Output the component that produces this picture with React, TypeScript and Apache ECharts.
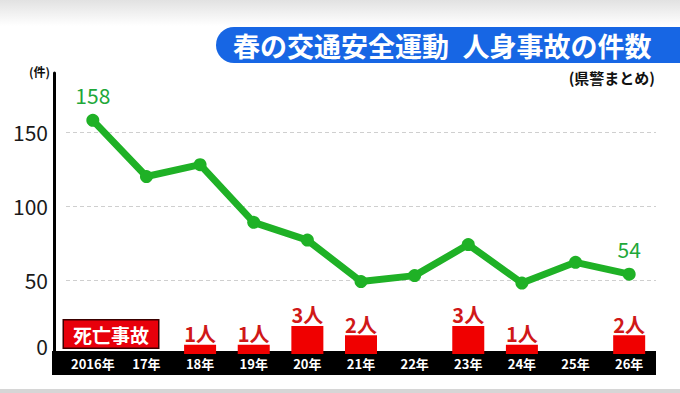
import React, { useEffect, useRef } from "react";
import * as echarts from "echarts";

const categories = ["2016年", "17年", "18年", "19年", "20年", "21年", "22年", "23年", "24年", "25年", "26年"];
const accidents = [158, 120, 128, 89, 77, 49, 53, 74, 48, 62, 54];
const deaths = [0, 0, 1, 1, 3, 2, 0, 3, 1, 0, 2];
const yTicks = [0, 50, 100, 150];
const titleText = "春の交通安全運動\u2002人身事故の件数";
const sourceText = "(県警まとめ)";
const unitText = "(件)";
const deathLegend = "死亡事故";
const lineName = "人身事故";

const FONT = "'Noto Sans CJK JP', 'Noto Sans', sans-serif";

export default function App() {
  const ref = useRef<HTMLDivElement>(null);
  useEffect(() => {
    if (!ref.current) return;
    const chart = echarts.init(ref.current, undefined, { renderer: "svg" });
    const lastIdx = accidents.length - 1;
    chart.setOption({
      animation: false,
      backgroundColor: "#ffffff",
      textStyle: { fontFamily: FONT },
      grid: { left: 66, right: 24, top: 73, bottom: 39, containLabel: false },
      legend: {
        data: [{ name: deathLegend, icon: "none" }],
        left: 59,
        top: 319,
        padding: 0,
        itemWidth: 0,
        itemHeight: 0,
        selectedMode: false,
        textStyle: {
          color: "#ffffff",
          fontSize: 19,
          fontWeight: "bold",
          fontFamily: FONT,
          backgroundColor: "#e8000b",
          borderColor: "#3a0000",
          borderWidth: 1.5,
          padding: [4, 9, 4, 9],
        },
      },
      xAxis: {
        type: "category",
        data: categories,
        axisLine: { show: false },
        axisTick: { show: false },
        axisLabel: {
          color: "#ffffff",
          fontSize: 13,
          fontWeight: "bold",
          fontFamily: FONT,
          margin: 3,
          interval: 0,
        },
        z: 5,
      },
      yAxis: [
        {
          type: "value",
          min: 0,
          max: 190,
          interval: 50,
          offset: 12,
          name: unitText,
          nameLocation: "end",
          nameGap: 2,
          nameTextStyle: {
            align: "right",
            verticalAlign: "middle",
            fontSize: 12,
            fontWeight: "bold",
            color: "#111",
            padding: [0, 4, 0, 0],
          },
          axisLine: { show: true, lineStyle: { color: "#000", width: 3 } },
          axisTick: { show: false },
          axisLabel: {
            fontSize: 21,
            color: "#1a1a1a",
            margin: 6,
            showMaxLabel: false,
            formatter: (v: number) => (yTicks.includes(v) ? (v === 0 ? "{z|0}" : String(v)) : ""),
            rich: { z: { fontSize: 21, color: "#1a1a1a", padding: [0, 0, 16, 0] } },
          },
          splitLine: {
            show: true,
            showMinLine: false,
            showMaxLine: false,
            lineStyle: { color: "#cfcfcf", type: [4, 3], width: 1 },
          },
        },
        {
          type: "value",
          min: 0,
          max: 30,
          show: false,
          splitLine: { show: false },
        },
      ],
      graphic: [
        {
          type: "rect",
          z: -10,
          silent: true,
          shape: { x: 0, y: 0, width: 680, height: 26 },
          style: {
            fill: new echarts.graphic.LinearGradient(0, 0, 0, 1, [
              { offset: 0, color: "#e2e2e2" },
              { offset: 1, color: "#ffffff" },
            ]),
          },
        },
        {
          type: "rect",
          z: -10,
          silent: true,
          shape: { x: 0, y: 389, width: 680, height: 4 },
          style: { fill: "#d6d6d6" },
        },
        {
          type: "rect",
          z: 1,
          silent: true,
          shape: { x: 216, y: 27, width: 470, height: 36, r: [18, 0, 0, 18] },
          style: { fill: "#1766e4" },
        },
        {
          type: "text",
          z: 2,
          silent: true,
          x: 233,
          y: 45,
          style: {
            text: titleText,
            fill: "#ffffff",
            font: `bold 27px ${FONT}`,
            verticalAlign: "middle",
            align: "left",
          },
        },
        {
          type: "text",
          z: 2,
          silent: true,
          x: 655,
          y: 77,
          style: {
            text: sourceText,
            fill: "#111",
            font: `bold 15px ${FONT}`,
            verticalAlign: "middle",
            align: "right",
          },
        },
        {
          type: "rect",
          z: 0,
          silent: true,
          shape: { x: 52, y: 351, width: 604, height: 24 },
          style: { fill: "#000000" },
        },
      ],
      series: [
        {
          name: deathLegend,
          type: "bar",
          yAxisIndex: 1,
          data: deaths,
          barWidth: 32,
          itemStyle: { color: "#f00000" },
          z: 1,
          label: {
            show: true,
            position: "top",
            distance: 1,
            color: "#d01818",
            fontSize: 20,
            fontWeight: "bold",
            fontFamily: FONT,
            formatter: (p: any) => (p.value ? `${p.value}人` : ""),
          },
        },
        {
          name: lineName,
          type: "line",
          data: accidents,
          symbol: "circle",
          symbolSize: 13,
          lineStyle: { color: "#1fb126", width: 7 },
          itemStyle: { color: "#1fb126" },
          z: 3,
          label: {
            show: true,
            position: "top",
            distance: 8,
            color: "#1fa83a",
            fontSize: 21,
            fontFamily: FONT,
            formatter: (p: any) => (p.dataIndex === 0 || p.dataIndex === lastIdx ? String(p.value) : ""),
          },
        },
      ],
    });
    return () => chart.dispose();
  }, []);
  return (
    <div
      ref={ref}
      style={{ position: "absolute", left: 0, top: 0, width: 680, height: 393 }}
    />
  );
}
